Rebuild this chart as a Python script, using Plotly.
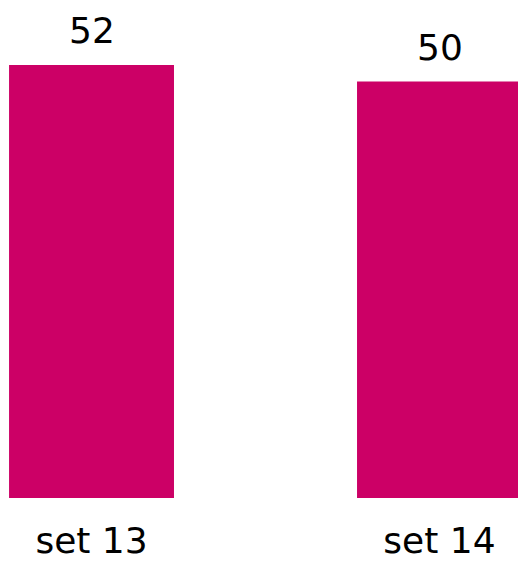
import plotly.graph_objects as go

categories = ["set 13", "set 14"]
values = [52, 50]
bar_color = "#CC0066"

fig = go.Figure()
fig.add_trace(go.Bar(
    x=categories, y=values, marker_color=bar_color, width=0.474,
    marker_line_width=0, hoverinfo="skip",
))
for c, v in zip(categories, values):
    fig.add_annotation(x=c, y=v, text=str(v), showarrow=False,
                       yanchor="bottom", yshift=12,
                       font=dict(family="DejaVu Sans", size=36, color="#000000"))

fig.update_layout(
    width=518, height=563,
    margin=dict(l=0, r=0, t=0, b=65),
    plot_bgcolor="white", paper_bgcolor="white",
    showlegend=False,
    font=dict(family="DejaVu Sans", size=36, color="#000000"),
    xaxis=dict(range=[-0.263, 1.2256], showgrid=False, zeroline=False,
               showline=False, ticks="", ticklabelstandoff=18,
               tickfont=dict(family="DejaVu Sans", size=36, color="#000000")),
    yaxis=dict(range=[0, 59.8], visible=False, showgrid=False, zeroline=False),
)
fig.write_html("out.html",
               config={"displayModeBar": False, "staticPlot": True},
               post_script="document.body.style.margin='0';document.body.style.overflow='hidden';")
